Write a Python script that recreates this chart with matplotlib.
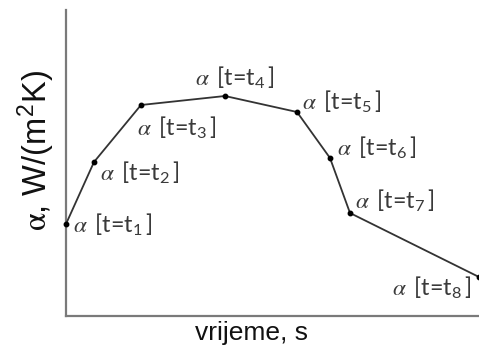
import matplotlib.pyplot as plt

# Dane: czas (umowne jednostki) i wartości współczynnika alfa
czas = [0, 28, 75, 159, 231, 264, 284, 413]
alfa = [92, 154, 211, 220, 204, 158, 103, 39]
indeksy = ["1", "2", "3", "4", "5", "6", "7", "8"]

# przesunięcia etykiet w pikselach (dx, dy, wyrównanie)
pomaki = [(7, 0, "left"), (6, -10, "left"), (-4, -22, "left"), (10, 19, "center"),
          (5, 11, "left"), (7, 11, "left"), (5, 13, "left"), (-7, -10, "right")]

fig = plt.figure(figsize=(4.79, 3.54), dpi=100)
ax = fig.add_axes([66 / 479, 38 / 354, 413 / 479, 306 / 354])

ax.plot(czas, alfa, color="#333333", lw=1.3, marker="o", ms=3.2,
        mfc="black", mec="black", clip_on=False, zorder=3)

for x, y, i, (dx, dy, ha) in zip(czas, alfa, indeksy, pomaki):
    ax.annotate(r"$\alpha\,$ [t=t$_\mathregular{" + i + r"}\,$]", (x, y),
                xytext=(dx, dy), textcoords="offset pixels",
                ha=ha, va="center", fontsize=16.8, color="#3a3a3a",
                family="Lato", math_fontfamily="stix", annotation_clip=False)

ax.set_xlim(0, 413)
ax.set_ylim(0, 306)
for s in ["top", "right"]:
    ax.spines[s].set_visible(False)
for s in ["left", "bottom"]:
    ax.spines[s].set_color("#7a7a7a")
    ax.spines[s].set_linewidth(1.6)
ax.set_xticks([])
ax.set_yticks([])

ax.set_xlabel("vrijeme, s", fontsize=19, family="Liberation Sans", color="#111111")
ax.xaxis.set_label_coords(0.45, -0.015)
ax.set_ylabel(r"$\mathrm{\alpha}$, W/(m$^\mathregular{2}$K)", fontsize=23.5,
              family="Liberation Sans", color="#111111", math_fontfamily="stix")
ax.yaxis.set_label_coords(-0.025, 0.54)

fig.savefig("out.png", dpi=100)
